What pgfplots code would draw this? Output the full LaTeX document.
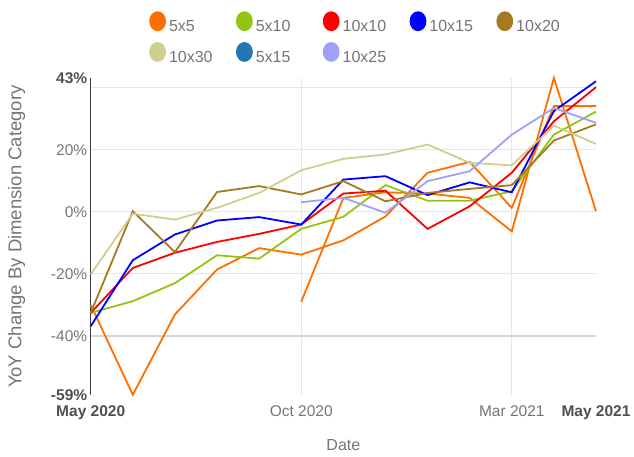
\documentclass[border=0pt]{standalone}
\usepackage{pgfplots}
\pgfplotsset{compat=1.18}
\usepackage{fontspec}
\setmainfont{Liberation Sans}
\definecolor{cA}{RGB}{255,111,0}
\definecolor{cB}{RGB}{148,196,18}
\definecolor{cC}{RGB}{255,0,0}
\definecolor{cD}{RGB}{0,0,255}
\definecolor{cE}{RGB}{166,122,32}
\definecolor{cF}{RGB}{208,206,143}
\definecolor{cG}{RGB}{31,119,180}
\definecolor{cH}{RGB}{160,160,245}
\definecolor{gridc}{RGB}{230,230,230}
\definecolor{basec}{RGB}{215,215,215}
\definecolor{tickc}{RGB}{117,117,117}
\definecolor{boldc}{RGB}{80,80,80}
\definecolor{axc}{RGB}{60,60,60}
\begin{document}
\begin{tikzpicture}
\useasboundingbox (-90.7pt,-62.2pt) rectangle (543.3pt,394.8pt);
\begin{axis}[
  at={(0pt,0pt)}, anchor=south west,
  scale only axis, width=505.3pt, height=316.3pt,
  xmin=0, xmax=12, ymin=-59, ymax=43,
  clip=false,
  axis line style={draw=none},
  major tick length=0pt,
  xtick={0,12},
  xticklabels={\textcolor{boldc}{\textbf{May 2020}},\textcolor{boldc}{\textbf{May 2021}}},
  extra x ticks={5,10},
  extra x tick labels={Oct 2020,Mar 2021},
  extra x tick style={grid=major},
  ytick={-40,-20,0,20,40},
  yticklabels={-40\%,-20\%,0\%,20\%,{}},
  ymajorgrids,
  extra y ticks={-59,43},
  extra y tick labels={\textcolor{boldc}{\textbf{-59\%}},\textcolor{boldc}{\textbf{43\%}}},
  extra y tick style={grid=none},
  grid style={color=gridc, line width=1pt},
  ticklabel style={font=\fontsize{15.5}{18}\selectfont, text=tickc},
  xticklabel style={yshift=-7pt},
  xlabel={Date},
  ylabel={YoY Change By Dimension Category},
  xlabel style={at={(axis description cs:0.5,-0.158)}, anchor=center, font=\fontsize{16}{19}\selectfont, text=tickc},
  ylabel style={at={(axis description cs:-0.1465,0.5)}, anchor=center, font=\fontsize{18.5}{22}\selectfont, text=tickc},
  legend columns=5,
  legend image code/.code={\fill[#1] (7.5pt,5.5pt) ellipse (7.5pt and 9pt);},
  legend style={at={(axis description cs:0.1154,1.213)}, anchor=north west, draw=none, fill=none, inner sep=0pt, row sep=6pt, column sep=0pt,
    nodes={text width=64pt, inner sep=3pt, align=left, font=\fontsize{16}{19}\selectfont, text=tickc}},
  every axis plot/.append style={line width=1.8pt, mark=none},
]
\draw[color=basec, line width=1.8pt] (axis cs:0,-40) -- (axis cs:12,-40);
\draw[color=axc, line width=1pt] (rel axis cs:0,0) -- (rel axis cs:0,1);

\addplot[color=cA] coordinates {(0,-30) (1,-59) (2,-33.1) (3,-18.6) (4,-11.7) (5,-13.8) (6,-9.2) (7,-1.5) (8,12.6) (9,16.1) (10,1.3) (11,34.1) (12,34.1)};
\addlegendentry{5x5}
\addplot[color=cA, forget plot] coordinates {(5,-29) (6,4.5) (7,6.3) (8,5.9) (9,4.5) (10,-6.3) (11,43.2) (12,0.2)};
\addplot[color=cB] coordinates {(0,-32.6) (1,-28.8) (2,-23) (3,-14) (4,-15.1) (5,-5.5) (6,-1.6) (7,8.6) (8,3.6) (9,3.6) (10,6.6) (11,24.9) (12,32.3)};
\addlegendentry{5x10}
\addplot[color=cC] coordinates {(0,-32.6) (1,-18.1) (2,-13.2) (3,-9.7) (4,-7.1) (5,-4.1) (6,5.9) (7,6.8) (8,-5.5) (9,1.8) (10,12.6) (11,29.2) (12,40.2)};
\addlegendentry{10x10}
\addplot[color=cD] coordinates {(0,-36.9) (1,-15.6) (2,-7.3) (3,-2.8) (4,-1.7) (5,-4.1) (6,10.4) (7,11.5) (8,5.4) (9,9.5) (10,6.3) (11,32.5) (12,42.1)};
\addlegendentry{10x15}
\addplot[color=cE] coordinates {(0,-32.6) (1,0.2) (2,-13) (3,6.4) (4,8.3) (5,5.6) (6,9.9) (7,3.4) (8,6.1) (9,7.4) (10,8.6) (11,23) (12,28.2)};
\addlegendentry{10x20}
\addplot[color=cF] coordinates {(0,-20.2) (1,-0.6) (2,-2.5) (3,1.3) (4,6.1) (5,13.4) (6,17.1) (7,18.5) (8,21.7) (9,15.8) (10,15) (11,27.8) (12,21.9)};
\addlegendentry{10x30}
\addlegendimage{color=cG}
\addlegendentry{5x15}
\addplot[color=cH] coordinates {(5,3.1) (6,4.5) (7,-0.3) (8,9.9) (9,13.1) (10,24.9) (11,33.5) (12,28.7)};
\addlegendentry{10x25}
\end{axis}
\end{tikzpicture}
\end{document}
